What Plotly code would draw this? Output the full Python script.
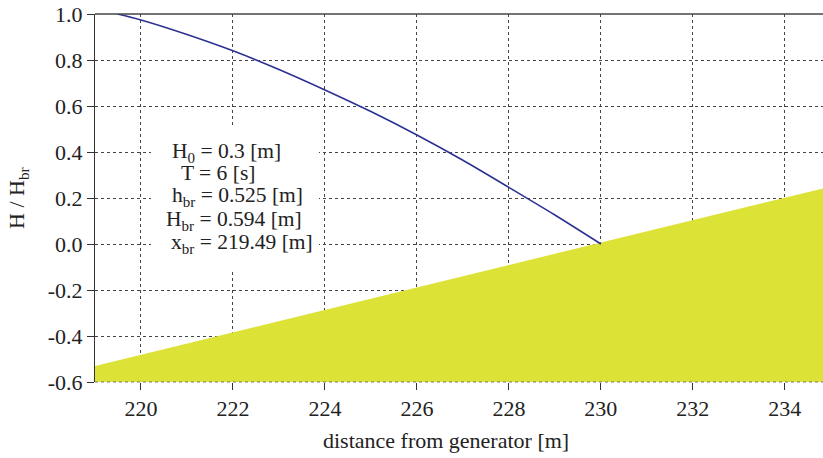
import plotly.graph_objects as go

# Wave height ratio along the flume
dist = [219.49, 220, 221, 222, 223, 224, 225, 226, 227, 228, 229, 230]
h_ratio = [1.0, 0.974, 0.911, 0.840, 0.759, 0.670, 0.576, 0.474, 0.364, 0.246, 0.126, 0.0]

# Sloping bed (in H/Hbr units)
bed_x = [219, 235]
bed_y = [-0.53, 0.25]
bed_base = [-0.6, -0.6]

x_ticks = [220, 222, 224, 226, 228, 230, 232, 234]
y_ticks = [-0.6, -0.4, -0.2, 0.0, 0.2, 0.4, 0.6, 0.8, 1.0]
y_ticktext = ["-0.6", "-0.4", "-0.2", "0.0", "0.2", "0.4", "0.6", "0.8", "1.0"]

info_lines = ["H<sub>0</sub> = 0.3 [m]", "T = 6 [s]", "h<sub>br</sub> = 0.525 [m]",
              "H<sub>br</sub> = 0.594 [m]", "x<sub>br</sub> = 219.49 [m]"]
info_x = [221.85, 221.67, 222.09, 222.02, 222.20]
info_y = [0.399, 0.307, 0.205, 0.104, 0.004]

FONT = "Liberation Serif, Times New Roman, serif"
TXT = "#222222"

fig = go.Figure()
fig.add_trace(go.Scatter(x=bed_x, y=bed_base, mode="lines", line=dict(width=0),
                         hoverinfo="skip", showlegend=False))
fig.add_trace(go.Scatter(x=bed_x, y=bed_y, mode="lines", line=dict(width=0),
                         fill="tonexty", fillcolor="#DDE237", showlegend=False))
fig.add_trace(go.Scatter(x=dist, y=h_ratio, mode="lines",
                         line=dict(color="#2D3192", width=1.6, shape="spline", smoothing=0.8),
                         showlegend=False))

annotations = [
    dict(x=xx, y=yy, xref="x", yref="y", text=t, showarrow=False,
         xanchor="center", yanchor="middle", font=dict(family=FONT, size=21.5, color=TXT))
    for t, xx, yy in zip(info_lines, info_x, info_y)
]
annotations += [
    dict(x=0.482, y=-0.158, xref="paper", yref="paper",
         text="distance from generator [m]", showarrow=False,
         xanchor="center", yanchor="middle",
         font=dict(family=FONT, size=22, color=TXT)),
    dict(x=-0.1058, y=0.5, xref="paper", yref="paper",
         text="H / H<sub>br</sub>", showarrow=False, textangle=-90,
         xanchor="center", yanchor="middle",
         font=dict(family=FONT, size=22, color=TXT)),
]

fig.update_layout(
    width=823, height=458,
    margin=dict(l=95, r=0, t=14, b=76),
    paper_bgcolor="white", plot_bgcolor="white",
    font=dict(family=FONT, size=22, color=TXT),
    xaxis=dict(range=[219, 234.83], tickvals=x_ticks, ticks="outside", ticklen=7,
               tickcolor="#333", showgrid=True, gridcolor="#444", griddash="dot",
               gridwidth=1, showline=False, zeroline=False,
               tickfont=dict(family=FONT, size=22, color=TXT)),
    yaxis=dict(range=[-0.6, 1.0], tickvals=y_ticks, ticktext=y_ticktext,
               ticks="outside", ticklen=7, tickcolor="#333",
               showgrid=True, gridcolor="#444", griddash="dot", gridwidth=1,
               showline=True, linecolor="#333", linewidth=1, zeroline=False,
               tickfont=dict(family=FONT, size=22, color=TXT)),
    shapes=[
        dict(type="rect", xref="x", yref="y", x0=220.217, x1=223.87, y0=-0.109, y1=0.509,
             fillcolor="white", line=dict(width=0), layer="between"),
        dict(type="line", xref="paper", yref="paper", x0=0, x1=1, y0=1, y1=1,
             line=dict(color="#444", width=1.5), layer="above"),
        dict(type="line", xref="paper", yref="paper", x0=0, x1=1, y0=0, y1=0,
             line=dict(color="#777", width=1, dash="dot"), layer="above"),
    ],
    annotations=annotations,
)

fig.write_html("out.html")
